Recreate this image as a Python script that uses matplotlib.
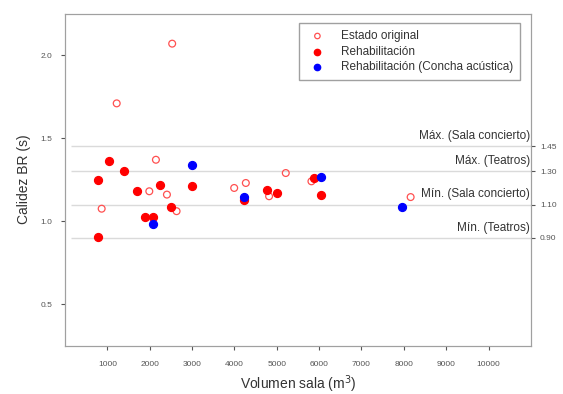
import numpy as np
import matplotlib
matplotlib.use("Agg")
import matplotlib.pyplot as plt

plt.rcParams['font.family'] = ['Liberation Sans', 'DejaVu Sans']

# Estado original (open markers)
orig_vol = [2530, 1220, 2146, 1990, 2406, 865, 2634, 3994, 4269, 5212, 4818, 5818, 8160]
orig_br = [2.07, 1.71, 1.37, 1.18, 1.16, 1.075, 1.06, 1.20, 1.23, 1.29, 1.15, 1.24, 1.145]

# Rehabilitacion (filled red)
rehab_vol = [1045, 1392, 786, 1691, 2248, 2988, 2493, 1887, 2068, 786, 4771, 5016, 4229, 5873, 6054]
rehab_br = [1.36, 1.30, 1.245, 1.18, 1.22, 1.21, 1.085, 1.024, 1.024, 0.904, 1.19, 1.168, 1.13, 1.26, 1.16]

# Rehabilitacion (Concha acustica) (filled blue)
concha_vol = [2988, 2068, 4229, 6054, 7955]
concha_br = [1.34, 0.985, 1.145, 1.265, 1.085]

# reference limits
lim_vals = [1.45, 1.30, 1.10, 0.90]
lim_labels = ["Máx. (Sala concierto)", "Máx. (Teatros)", "Mín. (Sala concierto)", "Mín. (Teatros)"]
lim_ticks = ["1.45", "1.30", "1.10", "0.90"]

xticks = [1000, 2000, 3000, 4000, 5000, 6000, 7000, 8000, 9000, 10000]
yticks = [0.5, 1.0, 1.5, 2.0]

fig = plt.figure(figsize=(5.63, 3.94), dpi=100)
ax = fig.add_axes([0.1155, 0.123, 0.8275, 0.842])

for v in lim_vals:
    ax.hlines(v, 150, 11000, colors="#dadada", linewidth=1.0, zorder=1)

ax.scatter(orig_vol, orig_br, s=24, facecolors="none", edgecolors="#ff5050",
           linewidths=0.9, label="Estado original", zorder=3)
ax.scatter(rehab_vol, rehab_br, s=32, color="#ff0000", label="Rehabilitación", zorder=4)
ax.scatter(concha_vol, concha_br, s=32, color="#0000ff",
           label="Rehabilitación (Concha acústica)", zorder=5)

ax.set_xlim(0, 11000)
ax.set_ylim(0.25, 2.25)
ax.set_xticks(xticks)
ax.set_xticklabels([str(t) for t in xticks])
ax.set_yticks(yticks)
ax.set_yticklabels(["0.5", "1.0", "1.5", "2.0"])

for v, lab in zip(lim_vals, lim_labels):
    ax.text(10980, v + 0.025, lab, ha="right", va="bottom", fontsize=8.5, color="#333333")

ax.tick_params(axis="both", labelsize=6, colors="#555555", length=3, direction="out")
ax.tick_params(axis="x", pad=8)
ax.tick_params(axis="y", pad=6)
for sp in ax.spines.values():
    sp.set_color("#a0a0a0")

ax.set_xlabel("Volumen sala (m$^3$)", fontsize=10, color="#333333", labelpad=4)
ax.set_ylabel("Calidez BR (s)", fontsize=10, color="#333333", labelpad=7)

ax2 = ax.twinx()
ax2.set_ylim(ax.get_ylim())
ax2.set_yticks(lim_vals)
ax2.set_yticklabels(lim_ticks)
ax2.tick_params(axis="y", labelsize=6, colors="#555555", length=3, direction="out")
for sp in ax2.spines.values():
    sp.set_color("#a0a0a0")

leg = ax.legend(loc="upper right", bbox_to_anchor=(0.99, 0.99), fontsize=8.5,
                frameon=True, fancybox=False, edgecolor="#888888",
                handletextpad=1.0, borderpad=0.6, labelspacing=0.3, markerscale=0.8)
for t in leg.get_texts():
    t.set_color("#333333")

fig.savefig("out.png", dpi=100)
